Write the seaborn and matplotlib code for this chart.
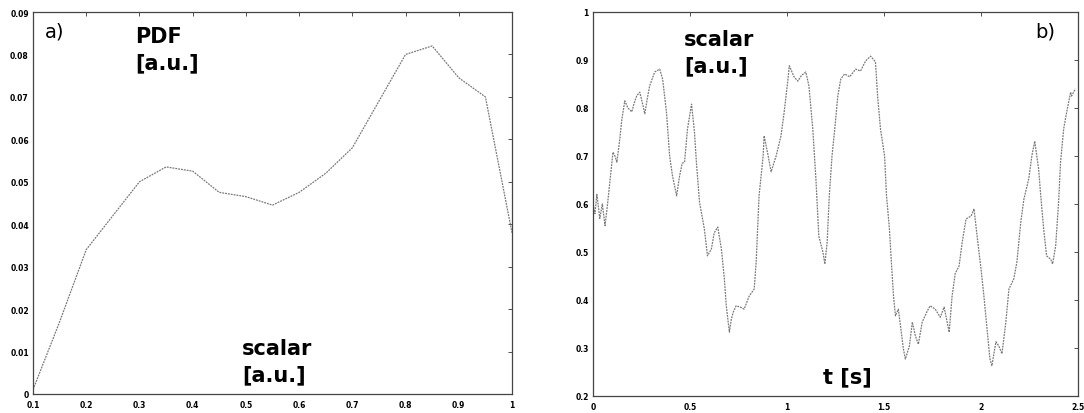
import matplotlib
matplotlib.use('Agg')
import matplotlib.pyplot as plt
from matplotlib.ticker import FuncFormatter
import seaborn as sns

# panel a) PDF of the scalar
pdf_x = [0.10, 0.15, 0.20, 0.25, 0.30, 0.35, 0.40, 0.45, 0.50, 0.55,
         0.60, 0.65, 0.70, 0.75, 0.80, 0.85, 0.90, 0.95, 1.00]
pdf_y = [0.001, 0.017, 0.034, 0.042, 0.050, 0.0535, 0.0525, 0.0475, 0.0465, 0.0445,
         0.0475, 0.052, 0.058, 0.069, 0.080, 0.082, 0.0745, 0.070, 0.038]

# panel b) scalar time trace
t_s = [0.000, 0.010, 0.020, 0.035, 0.048, 0.062, 0.075, 0.087, 0.103, 0.113,
       0.123, 0.138, 0.149, 0.164, 0.180, 0.200, 0.212, 0.225, 0.241, 0.255,
       0.267, 0.280, 0.292, 0.318, 0.344, 0.359, 0.379, 0.395, 0.410, 0.431,
       0.446, 0.460, 0.472, 0.487, 0.508, 0.523, 0.533, 0.549, 0.574, 0.590,
       0.610, 0.625, 0.643, 0.662, 0.677, 0.687, 0.703, 0.713, 0.723, 0.738,
       0.760, 0.779, 0.805, 0.831, 0.841, 0.856, 0.877, 0.882, 0.893, 0.903,
       0.918, 0.944, 0.969, 0.985, 1.005, 1.012, 1.036, 1.056, 1.075, 1.097,
       1.113, 1.133, 1.149, 1.164, 1.185, 1.195, 1.207, 1.218, 1.232, 1.246,
       1.262, 1.277, 1.297, 1.323, 1.354, 1.379, 1.405, 1.431, 1.456, 1.467,
       1.482, 1.503, 1.513, 1.528, 1.538, 1.549, 1.559, 1.574, 1.585, 1.600,
       1.610, 1.631, 1.646, 1.662, 1.677, 1.697, 1.723, 1.738, 1.764, 1.790,
       1.810, 1.836, 1.851, 1.867, 1.887, 1.903, 1.923, 1.949, 1.964, 1.980,
       2.000, 2.015, 2.031, 2.046, 2.056, 2.077, 2.092, 2.108, 2.128, 2.144,
       2.169, 2.185, 2.205, 2.221, 2.246, 2.262, 2.277, 2.297, 2.308, 2.323,
       2.338, 2.359, 2.369, 2.385, 2.400, 2.410, 2.426, 2.441, 2.462, 2.467,
       2.487]
scalar = [0.60, 0.58, 0.62, 0.57, 0.60, 0.555, 0.60, 0.646, 0.708, 0.700,
          0.687, 0.735, 0.777, 0.815, 0.800, 0.792, 0.810, 0.825, 0.833, 0.810,
          0.788, 0.820, 0.846, 0.875, 0.881, 0.860, 0.790, 0.700, 0.658, 0.617,
          0.658, 0.685, 0.687, 0.756, 0.808, 0.750, 0.687, 0.604, 0.548, 0.492,
          0.506, 0.540, 0.552, 0.506, 0.444, 0.388, 0.333, 0.360, 0.375, 0.388,
          0.385, 0.381, 0.408, 0.423, 0.479, 0.617, 0.700, 0.742, 0.720, 0.700,
          0.667, 0.700, 0.742, 0.790, 0.860, 0.888, 0.865, 0.856, 0.868, 0.875,
          0.846, 0.756, 0.652, 0.533, 0.500, 0.475, 0.520, 0.617, 0.700, 0.756,
          0.825, 0.860, 0.871, 0.865, 0.881, 0.877, 0.898, 0.908, 0.896, 0.825,
          0.756, 0.700, 0.617, 0.548, 0.479, 0.408, 0.367, 0.381, 0.346, 0.298,
          0.277, 0.304, 0.354, 0.325, 0.308, 0.354, 0.377, 0.388, 0.381, 0.364,
          0.385, 0.333, 0.408, 0.455, 0.471, 0.520, 0.569, 0.575, 0.590, 0.533,
          0.465, 0.408, 0.340, 0.277, 0.263, 0.313, 0.304, 0.288, 0.354, 0.423,
          0.444, 0.479, 0.562, 0.610, 0.652, 0.700, 0.731, 0.673, 0.617, 0.548,
          0.492, 0.485, 0.475, 0.513, 0.604, 0.687, 0.756, 0.790, 0.833, 0.825,
          0.840]

pdf_xticks = [0.1, 0.2, 0.3, 0.4, 0.5, 0.6, 0.7, 0.8, 0.9, 1.0]
pdf_yticks = [0, 0.01, 0.02, 0.03, 0.04, 0.05, 0.06, 0.07, 0.08, 0.09]
t_ticks = [0, 0.5, 1.0, 1.5, 2.0, 2.5]
s_ticks = [0.2, 0.3, 0.4, 0.5, 0.6, 0.7, 0.8, 0.9, 1.0]

sns.set_style('white')
plt.rcParams['font.family'] = ['DejaVu Sans']
plt.rcParams['text.color'] = 'black'

W, H = 1084, 414
fig = plt.figure(figsize=(W / 100, H / 100), dpi=100)

def px_rect(l, t, r, b):
    return [l / W, 1 - b / H, (r - l) / W, (b - t) / H]

ax_a = fig.add_axes(px_rect(33, 13, 512, 395))
ax_b = fig.add_axes(px_rect(593, 13, 1078, 397))

line_kw = dict(color='#7a7a7a', linewidth=0.9, linestyle=(0, (1.5, 0.8)))
sns.lineplot(x=pdf_x, y=pdf_y, ax=ax_a, estimator=None, **line_kw)
sns.lineplot(x=t_s, y=scalar, ax=ax_b, estimator=None, **line_kw)

ax_a.set_xlim(0.1, 1.0)
ax_a.set_ylim(0, 0.09)
ax_a.set_xticks(pdf_xticks)
ax_a.set_yticks(pdf_yticks)

ax_b.set_xlim(0, 2.5)
ax_b.set_ylim(0.2, 1.0)
ax_b.set_xticks(t_ticks)
ax_b.set_yticks(s_ticks)

fmt = FuncFormatter(lambda v, p: '%g' % round(v, 3))
for ax in (ax_a, ax_b):
    ax.xaxis.set_major_formatter(fmt)
    ax.yaxis.set_major_formatter(fmt)
    ax.tick_params(direction='in', length=3, width=0.6, color='#333333',
                   labelcolor='black', labelsize=5.5, top=True, right=True)
    ax.tick_params(axis='x', pad=4)
    ax.tick_params(axis='y', pad=3)
    for lab in ax.get_xticklabels() + ax.get_yticklabels():
        lab.set_fontweight('bold')
    for sp in ax.spines.values():
        sp.set_visible(True)
        sp.set_color('#444444')
        sp.set_linewidth(0.9)
    ax.set_xlabel('')
    ax.set_ylabel('')

def put(x, y, s, **kw):
    fig.text(x / W, 1 - y / H, s, color='black', **kw)

lab_kw = dict(fontsize=15, fontweight='bold', va='top', ha='left', linespacing=1.4)
put(45, 22, 'a)', fontsize=14, va='top', ha='left')
put(135, 27, 'PDF\n[a.u.]', **lab_kw)
put(242, 339, 'scalar\n[a.u.]', **lab_kw)
put(1035, 22, 'b)', fontsize=14, va='top', ha='left')
put(684, 30, 'scalar\n[a.u.]', **lab_kw)
put(823, 367, 't [s]', **lab_kw)

plt.savefig('out.png', dpi=100)
plt.close()
